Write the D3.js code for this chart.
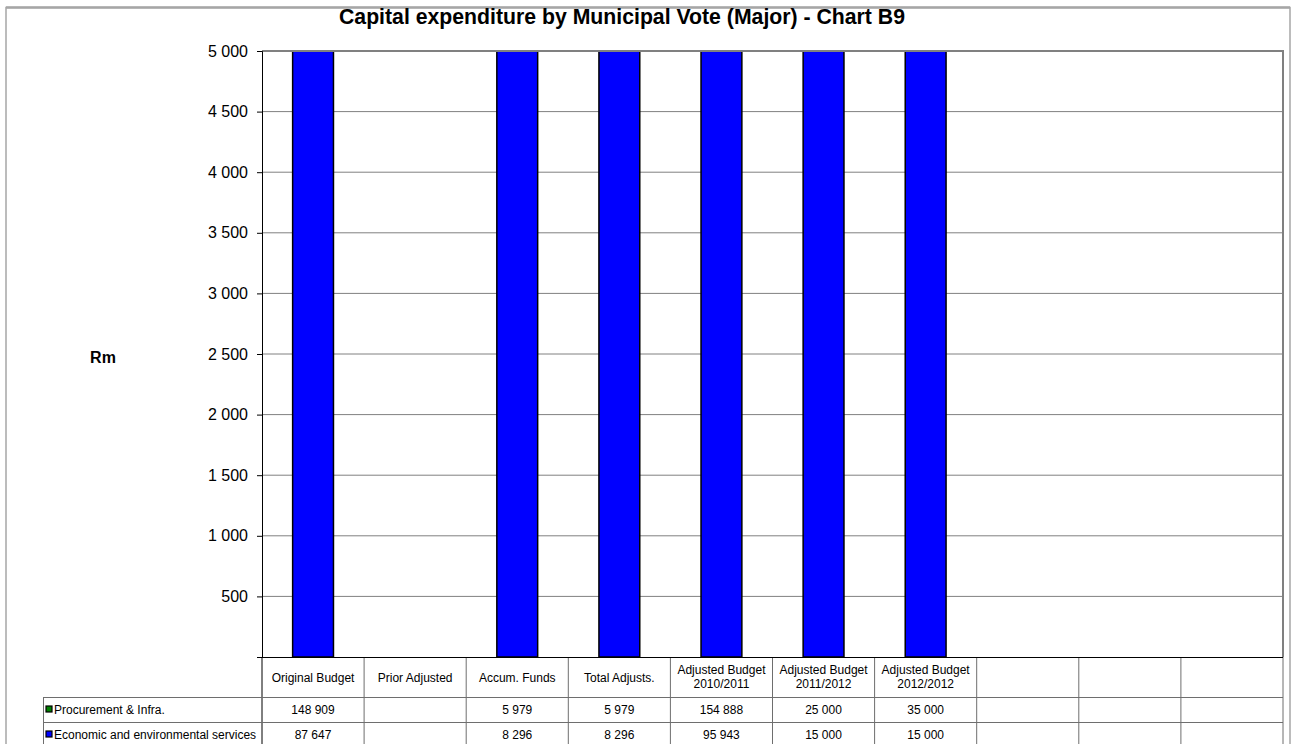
<!DOCTYPE html>
<html>
<head>
<meta charset="utf-8">
<script src="https://cdn.jsdelivr.net/npm/d3@7"></script>
<style>
  body { margin: 0; background: #fff; }
  svg { display: block; font-family: "Liberation Sans", Arial, sans-serif; }
</style>
</head>
<body>
<div id="chart"></div>
<script>
var categories = ["Original Budget", "Prior Adjusted", "Accum. Funds", "Total Adjusts.",
                  "Adjusted Budget\n2010/2011", "Adjusted Budget\n2011/2012", "Adjusted Budget\n2012/2012",
                  "", "", ""];
var seriesNames = ["Procurement & Infra.", "Economic and environmental services"];
var procurement = [148909, null, 5979, 5979, 154888, 25000, 35000, null, null, null];
var economic = [87647, null, 8296, 8296, 95943, 15000, 15000, null, null, null];
var seriesColors = ["#008000", "#0000ff"];
var yTicks = [500, 1000, 1500, 2000, 2500, 3000, 3500, 4000, 4500, 5000];

var W = 1295, H = 744,
    plotLeft = 262, plotRight = 1283, plotTop = 51, plotBottom = 657,
    headerBottom = 697, rowH = 25, legendLeft = 43;

var loc = d3.formatLocale({decimal: ".", thousands: " ", grouping: [3], currency: ["", ""]});
var fmt = loc.format(",.0f");

var svg = d3.select("#chart").append("svg")
    .attr("width", W)
    .attr("height", H);

// outer frame
svg.append("rect")
    .attr("x", 6).attr("y", 7.5)
    .attr("width", 1284).attr("height", 760)
    .attr("fill", "none")
    .attr("stroke", "#a6a6a6")
    .attr("stroke-width", 1.5);
svg.append("line")
    .attr("x1", 6).attr("x2", 1290)
    .attr("y1", 7.5).attr("y2", 7.5)
    .attr("stroke", "#a6a6a6").attr("stroke-width", 2.5);

svg.append("text")
    .text("Capital expenditure by Municipal Vote (Major) - Chart B9")
    .attr("x", 622).attr("y", 24)
    .attr("text-anchor", "middle")
    .attr("font-weight", "bold")
    .attr("font-size", "22px")
    .attr("textLength", 566)
    .attr("lengthAdjust", "spacingAndGlyphs")
    .attr("fill", "#000");

var x = d3.scaleBand()
    .domain(d3.range(categories.length))
    .range([plotLeft, plotRight])
    .paddingInner(0).paddingOuter(0);

var y = d3.scaleLinear()
    .domain([0, 5000])
    .range([plotBottom, plotTop]);

// gridlines
svg.append("g").selectAll("line.grid")
  .data(yTicks)
  .enter().append("line")
    .attr("class", "grid")
    .attr("x1", plotLeft).attr("x2", plotRight)
    .attr("y1", function (d) { return y(d); })
    .attr("y2", function (d) { return y(d); })
    .attr("stroke", "#808080")
    .attr("stroke-width", 1);

// stacked bars, economic at the bottom
var rows = categories.map(function (c, i) {
  return {i: i, econ: economic[i] || 0, proc: procurement[i] || 0};
});
var stack = d3.stack().keys(["econ", "proc"])(rows);
var stackColors = [seriesColors[1], seriesColors[0]];

svg.append("clipPath").attr("id", "plotclip")
  .append("rect")
    .attr("x", plotLeft).attr("y", plotTop)
    .attr("width", plotRight - plotLeft).attr("height", plotBottom - plotTop);

var barW = x.bandwidth() * 0.4;
var bars = svg.append("g").attr("clip-path", "url(#plotclip)");
stack.forEach(function (layer, k) {
  bars.selectAll("rect.s" + k)
    .data(layer.filter(function (d) { return d[1] > d[0]; }))
    .enter().append("rect")
      .attr("class", "s" + k)
      .attr("x", function (d) { return x(d.data.i) + (x.bandwidth() - barW) / 2; })
      .attr("width", barW)
      .attr("y", function (d) { return y(d[1]); })
      .attr("height", function (d) { return y(d[0]) - y(d[1]); })
      .attr("fill", stackColors[k])
      .attr("stroke", "#000")
      .attr("stroke-width", 1.5);
});

// plot border: top/right gray, left/bottom black
svg.append("line")
    .attr("x1", plotLeft).attr("x2", plotRight + 1)
    .attr("y1", plotTop).attr("y2", plotTop)
    .attr("stroke", "#808080").attr("stroke-width", 2);
svg.append("line")
    .attr("x1", plotRight).attr("x2", plotRight)
    .attr("y1", plotTop).attr("y2", plotBottom)
    .attr("stroke", "#808080").attr("stroke-width", 2);

// y axis
var yAxis = svg.append("g")
    .attr("transform", "translate(" + plotLeft + ",0)")
    .call(d3.axisLeft(y).tickValues(yTicks).tickSize(5).tickPadding(9)
      .tickFormat(function (d) { return fmt(d); }));
yAxis.select(".domain").attr("stroke", "#000");
yAxis.selectAll(".tick line").attr("stroke", "#000");
yAxis.selectAll("text")
    .attr("font-size", "16px")
    .attr("font-family", "\"Liberation Sans\", Arial, sans-serif")
    .attr("fill", "#000");

svg.append("text")
    .text("Rm")
    .attr("x", 103).attr("y", 363)
    .attr("text-anchor", "middle")
    .attr("font-weight", "bold")
    .attr("font-size", "16px");

// data table
var tableBottom = headerBottom + rowH * 2 + 10;
var grid = svg.append("g").attr("stroke", "#6e6e6e").attr("stroke-width", 1);

grid.selectAll("line.col")
  .data(d3.range(categories.length + 1))
  .enter().append("line")
    .attr("class", "col")
    .attr("x1", function (d) { return d < categories.length ? x(d) : plotRight; })
    .attr("x2", function (d) { return d < categories.length ? x(d) : plotRight; })
    .attr("y1", plotBottom)
    .attr("y2", tableBottom)
    .attr("stroke", function (d) { return d === 0 ? "#000" : "#6e6e6e"; });

grid.selectAll("line.row")
  .data([headerBottom, headerBottom + rowH])
  .enter().append("line")
    .attr("class", "row")
    .attr("x1", legendLeft).attr("x2", plotRight)
    .attr("y1", function (d) { return d + 0.5; })
    .attr("y2", function (d) { return d + 0.5; });

grid.append("line")
    .attr("x1", legendLeft + 0.5).attr("x2", legendLeft + 0.5)
    .attr("y1", headerBottom).attr("y2", tableBottom);

// x axis line over the table lines
svg.append("line")
    .attr("x1", plotLeft - 5).attr("x2", plotRight)
    .attr("y1", plotBottom + 0.5).attr("y2", plotBottom + 0.5)
    .attr("stroke", "#000").attr("stroke-width", 1.2);

// header labels
var heads = svg.append("g").selectAll("text.head")
  .data(categories)
  .enter().append("text")
    .attr("class", "head")
    .attr("text-anchor", "middle")
    .attr("font-size", "12px")
    .attr("fill", "#000");
heads.each(function (d, i) {
  var lines = d.split("\n");
  var cx = x(i) + x.bandwidth() / 2;
  var y0 = lines.length === 1 ? 682 : 674;
  d3.select(this).selectAll("tspan")
    .data(lines)
    .enter().append("tspan")
      .attr("x", cx)
      .attr("y", function (l, j) { return y0 + j * 14; })
      .text(function (l) { return l; });
});

// value rows
[procurement, economic].forEach(function (vals, r) {
  var rowY = headerBottom + rowH * r;
  svg.append("g").selectAll("text.val")
    .data(vals)
    .enter().append("text")
      .attr("class", "val")
      .attr("x", function (d, i) { return x(i) + x.bandwidth() / 2; })
      .attr("y", rowY + 17)
      .attr("text-anchor", "middle")
      .attr("font-size", "12px")
      .attr("fill", "#000")
      .text(function (d) { return d == null ? "" : fmt(d); });

  svg.append("rect")
      .attr("x", legendLeft + 3).attr("y", rowY + 9)
      .attr("width", 6).attr("height", 6)
      .attr("fill", seriesColors[r])
      .attr("stroke", "#000").attr("stroke-width", 1.2);
  svg.append("text")
      .text(seriesNames[r])
      .attr("x", legendLeft + 11).attr("y", rowY + 17)
      .attr("font-size", "12px")
      .attr("fill", "#000");
});
</script>
</body>
</html>
